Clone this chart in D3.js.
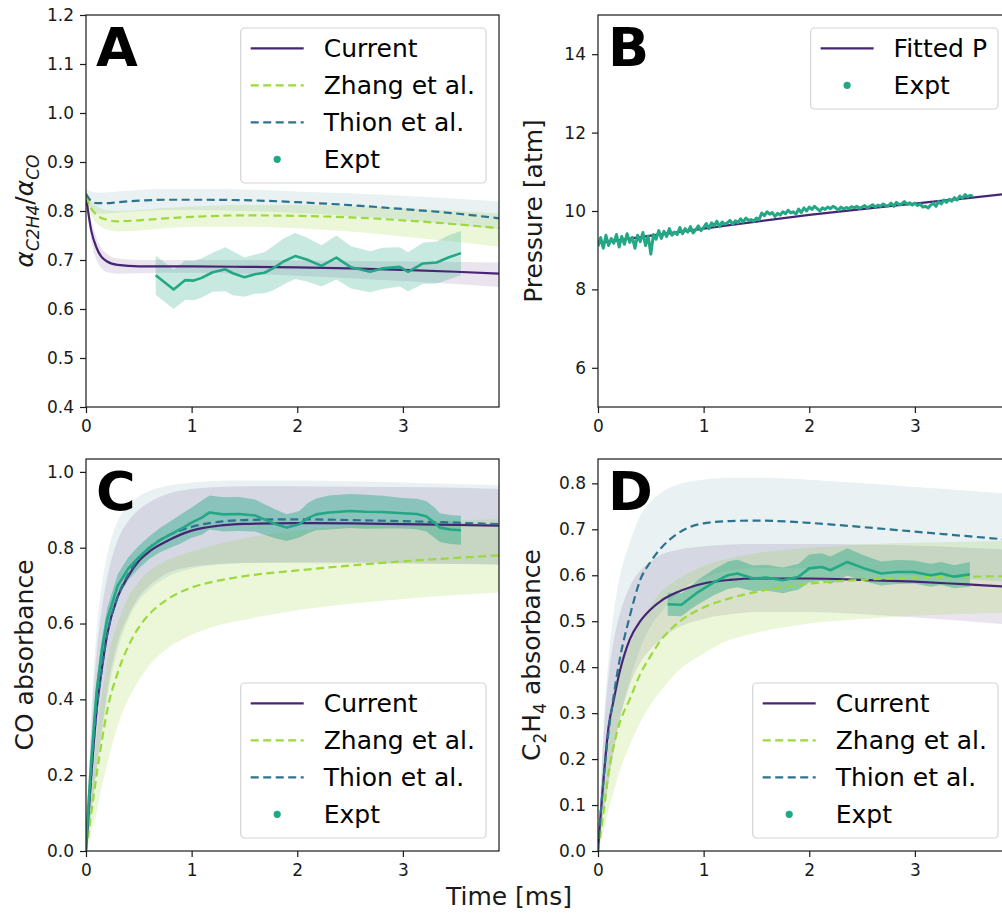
<!DOCTYPE html>
<html>
<head>
<meta charset="utf-8">
<script src="https://cdn.jsdelivr.net/npm/d3@7"></script>
<style>
  body { margin: 0; background: #fff; }
  text { font-family: "DejaVu Sans", sans-serif; }
</style>
</head>
<body>
<div id="draw"></div>
<script>
// ---- data ----
let T_MAX = 3.91;

// panel A : alpha ratio
let tA = [0, 0.05, 0.1, 0.2, 0.3, 0.5, 0.75, 1.0, 1.5, 2.0, 2.5, 3.0, 3.5, 3.91];
let curA   = [0.83, 0.76, 0.725, 0.697, 0.690, 0.687, 0.687, 0.687, 0.686, 0.685, 0.683, 0.680, 0.676, 0.672];
let curALo = [0.825, 0.74, 0.70, 0.675, 0.672, 0.673, 0.674, 0.674, 0.672, 0.668, 0.663, 0.657, 0.651, 0.645];
let curAHi = [0.835, 0.78, 0.745, 0.712, 0.703, 0.700, 0.700, 0.700, 0.700, 0.699, 0.698, 0.697, 0.696, 0.695];
let zhA    = [0.83, 0.805, 0.792, 0.782, 0.779, 0.781, 0.785, 0.788, 0.791, 0.790, 0.787, 0.781, 0.773, 0.765];
let zhALo  = [0.82, 0.79, 0.775, 0.762, 0.758, 0.760, 0.765, 0.768, 0.768, 0.765, 0.758, 0.748, 0.737, 0.727];
let zhAHi  = [0.84, 0.82, 0.81, 0.802, 0.800, 0.802, 0.806, 0.809, 0.812, 0.812, 0.810, 0.806, 0.800, 0.795];
let thA    = [0.835, 0.82, 0.816, 0.816, 0.818, 0.821, 0.823, 0.823, 0.822, 0.818, 0.812, 0.804, 0.795, 0.785];
let thALo  = [0.825, 0.80, 0.795, 0.795, 0.797, 0.800, 0.802, 0.802, 0.800, 0.796, 0.790, 0.782, 0.772, 0.762];
let thAHi  = [0.845, 0.84, 0.838, 0.838, 0.840, 0.843, 0.845, 0.845, 0.844, 0.840, 0.836, 0.831, 0.825, 0.820];
let tExA  = [0.66, 0.83, 0.94, 1.02, 1.09, 1.2, 1.32, 1.39, 1.5, 1.6, 1.69, 1.77, 1.87, 1.98, 2.09, 2.23, 2.37, 2.51, 2.69, 2.81, 2.97, 3.05, 3.19, 3.32, 3.43, 3.55];
let exA   = [0.669, 0.640, 0.659, 0.658, 0.663, 0.675, 0.681, 0.673, 0.665, 0.671, 0.674, 0.683, 0.697, 0.708, 0.701, 0.688, 0.705, 0.685, 0.676, 0.683, 0.686, 0.676, 0.693, 0.695, 0.705, 0.714];
let errA  = [0.04, 0.04, 0.04, 0.04, 0.04, 0.04, 0.045, 0.045, 0.04, 0.04, 0.042, 0.045, 0.047, 0.047, 0.045, 0.042, 0.045, 0.043, 0.042, 0.042, 0.04, 0.04, 0.042, 0.043, 0.045, 0.045];

// panel B : pressure
let tFitB = [0, 0.5, 1, 1.5, 2, 2.5, 3, 3.5, 3.91];
let fitB  = [9.18, 9.37, 9.55, 9.73, 9.90, 10.05, 10.19, 10.33, 10.45];
let exBStep = 0.025;
let exB = [
  9.10, 9.32, 9.05, 9.38, 9.12, 9.30, 9.18, 9.40, 9.08, 9.35,
  9.15, 9.42, 9.20, 9.33, 9.05, 9.38, 9.22, 9.45, 9.12, 9.36,
  8.90, 9.40, 9.28, 9.50, 9.30, 9.48, 9.35, 9.55, 9.38, 9.46,
  9.40, 9.58, 9.42, 9.55, 9.46, 9.60, 9.44, 9.52, 9.62, 9.50,
  9.58, 9.68, 9.55, 9.70, 9.62, 9.74, 9.60, 9.72, 9.66, 9.70,
  9.76, 9.66, 9.75, 9.70, 9.80, 9.72, 9.82, 9.76, 9.78, 9.74,
  9.82, 9.78, 9.95, 9.88, 9.98, 9.92, 9.96, 9.86, 9.94, 9.90,
  9.98, 9.93, 10.02, 9.95, 9.98, 9.92, 10.05, 9.96, 10.08, 10.00,
  10.10, 10.04, 10.12, 10.06, 10.00, 10.08, 10.04, 10.10, 10.06, 10.12,
  10.08, 10.02, 10.10, 10.05, 10.09, 10.06, 10.11, 10.08, 10.12, 10.07,
  10.10, 10.14, 10.08, 10.12, 10.16, 10.10, 10.15, 10.12, 10.18, 10.13,
  10.14, 10.20, 10.12, 10.22, 10.16, 10.18, 10.24, 10.17, 10.21, 10.15,
  10.20, 10.14, 10.18, 10.10, 10.12, 10.08, 10.15, 10.20, 10.12, 10.24,
  10.18, 10.28, 10.22, 10.30, 10.25, 10.34, 10.28, 10.38, 10.32, 10.42,
  10.36, 10.40, 10.38
];

// panels C and D share the model time grid
let tM = [0, 0.025, 0.05, 0.1, 0.15, 0.2, 0.3, 0.4, 0.5, 0.6, 0.75, 1.0, 1.25, 1.5, 2.0, 2.5, 3.0, 3.5, 3.91];

// panel C : CO absorbance
let curC   = [0, 0.1, 0.2, 0.37, 0.48, 0.57, 0.67, 0.725, 0.765, 0.79, 0.815, 0.845, 0.858, 0.863, 0.865, 0.864, 0.862, 0.86, 0.858];
let curCLo = [0, 0.05, 0.1, 0.22, 0.32, 0.42, 0.55, 0.62, 0.67, 0.70, 0.73, 0.75, 0.757, 0.76, 0.76, 0.759, 0.758, 0.757, 0.755];
let curCHi = [0, 0.17, 0.32, 0.52, 0.64, 0.72, 0.82, 0.87, 0.90, 0.92, 0.94, 0.955, 0.96, 0.962, 0.962, 0.961, 0.96, 0.958, 0.955];
let zhC    = [0, 0.05, 0.1, 0.2, 0.29, 0.37, 0.47, 0.54, 0.59, 0.625, 0.66, 0.695, 0.713, 0.725, 0.74, 0.753, 0.764, 0.773, 0.78];
let zhCLo  = [0, 0.02, 0.05, 0.1, 0.17, 0.23, 0.33, 0.40, 0.45, 0.49, 0.53, 0.57, 0.595, 0.61, 0.635, 0.652, 0.665, 0.675, 0.682];
let zhCHi  = [0, 0.09, 0.17, 0.30, 0.41, 0.50, 0.60, 0.67, 0.71, 0.74, 0.765, 0.79, 0.81, 0.825, 0.845, 0.857, 0.866, 0.872, 0.876];
let thC    = [0, 0.1, 0.2, 0.37, 0.48, 0.57, 0.67, 0.73, 0.77, 0.80, 0.828, 0.855, 0.868, 0.873, 0.875, 0.873, 0.87, 0.866, 0.862];
let thCLo  = [0, 0.05, 0.1, 0.21, 0.30, 0.40, 0.53, 0.61, 0.66, 0.69, 0.72, 0.745, 0.755, 0.76, 0.762, 0.762, 0.76, 0.758, 0.756];
let thCHi  = [0, 0.2, 0.36, 0.58, 0.70, 0.78, 0.87, 0.91, 0.935, 0.95, 0.962, 0.972, 0.976, 0.977, 0.977, 0.975, 0.972, 0.968, 0.965];
let tExC = [0, 0.05, 0.1, 0.15, 0.2, 0.3, 0.4, 0.5, 0.6, 0.7, 0.8, 0.9, 1.0, 1.1, 1.17, 1.3, 1.45, 1.6, 1.71, 1.8, 1.9, 2.02, 2.1, 2.18, 2.3, 2.5, 2.65, 2.81, 3.0, 3.13, 3.22, 3.3, 3.35, 3.45, 3.55];
let exC  = [0.02, 0.24, 0.42, 0.53, 0.61, 0.70, 0.745, 0.775, 0.80, 0.82, 0.835, 0.85, 0.866, 0.88, 0.893, 0.888, 0.889, 0.885, 0.872, 0.862, 0.853, 0.862, 0.878, 0.888, 0.893, 0.897, 0.895, 0.894, 0.891, 0.889, 0.883, 0.866, 0.853, 0.848, 0.846];
let errC = [0.01, 0.02, 0.025, 0.03, 0.03, 0.03, 0.03, 0.03, 0.03, 0.032, 0.035, 0.038, 0.04, 0.045, 0.045, 0.045, 0.045, 0.042, 0.04, 0.038, 0.035, 0.035, 0.04, 0.042, 0.045, 0.045, 0.045, 0.043, 0.04, 0.04, 0.04, 0.04, 0.038, 0.038, 0.038];

// panel D : C2H4 absorbance
let curD   = [0, 0.08, 0.15, 0.27, 0.33, 0.385, 0.46, 0.50, 0.526, 0.545, 0.563, 0.582, 0.59, 0.593, 0.593, 0.59, 0.586, 0.58, 0.575];
let curDLo = [0, 0.04, 0.08, 0.15, 0.22, 0.28, 0.36, 0.41, 0.44, 0.46, 0.485, 0.505, 0.515, 0.52, 0.52, 0.515, 0.508, 0.50, 0.492];
let curDHi = [0, 0.13, 0.24, 0.38, 0.46, 0.51, 0.575, 0.61, 0.63, 0.645, 0.655, 0.663, 0.667, 0.668, 0.668, 0.667, 0.664, 0.66, 0.656];
let zhD    = [0, 0.04, 0.08, 0.17, 0.23, 0.275, 0.33, 0.385, 0.425, 0.46, 0.495, 0.53, 0.55, 0.564, 0.582, 0.59, 0.595, 0.597, 0.598];
let zhDLo  = [0, 0.02, 0.04, 0.09, 0.13, 0.17, 0.23, 0.28, 0.32, 0.35, 0.39, 0.43, 0.46, 0.475, 0.495, 0.505, 0.512, 0.516, 0.518];
let zhDHi  = [0, 0.07, 0.13, 0.25, 0.33, 0.39, 0.45, 0.50, 0.535, 0.565, 0.59, 0.62, 0.637, 0.648, 0.66, 0.667, 0.671, 0.673, 0.675];
let thD    = [0, 0.08, 0.15, 0.26, 0.34, 0.41, 0.51, 0.59, 0.63, 0.66, 0.69, 0.713, 0.718, 0.719, 0.714, 0.705, 0.695, 0.685, 0.677];
let thDLo  = [0, 0.04, 0.08, 0.15, 0.22, 0.28, 0.37, 0.44, 0.49, 0.52, 0.56, 0.595, 0.61, 0.615, 0.615, 0.61, 0.60, 0.592, 0.585];
let thDHi  = [0, 0.14, 0.26, 0.42, 0.52, 0.59, 0.67, 0.73, 0.76, 0.78, 0.797, 0.808, 0.812, 0.812, 0.808, 0.80, 0.792, 0.784, 0.777];
let tExD = [0.66, 0.79, 0.87, 0.95, 1.1, 1.23, 1.32, 1.47, 1.59, 1.75, 1.9, 2.0, 2.12, 2.2, 2.36, 2.52, 2.68, 2.83, 2.99, 3.15, 3.25, 3.37, 3.52];
let exD  = [0.537, 0.536, 0.55, 0.564, 0.585, 0.600, 0.604, 0.593, 0.595, 0.589, 0.597, 0.615, 0.618, 0.611, 0.629, 0.615, 0.604, 0.607, 0.607, 0.600, 0.604, 0.597, 0.602];
let errD = [0.025, 0.025, 0.025, 0.027, 0.028, 0.03, 0.03, 0.028, 0.028, 0.028, 0.028, 0.03, 0.03, 0.03, 0.03, 0.028, 0.026, 0.026, 0.025, 0.025, 0.025, 0.025, 0.027];

let xTicks = [0, 1, 2, 3];

// ---- styles ----
let C_CUR = d3.interpolateViridis(0.1);
let C_ZH = d3.interpolateViridis(0.85);
let C_TH = d3.interpolateViridis(0.38);
let C_EX = d3.interpolateViridis(0.6);
let PW = 413, PH = 392;
let INK = '#1a1a1a';

let W = 1002, H = 913;
let svg = d3.select('#draw').append('svg').attr('width', W).attr('height', H);

let zip = function(t, v) { return t.map((tt, i) => [tt, v[i]]); };
let zipBand = function(t, lo, hi) { return t.map((tt, i) => [tt, lo[i], hi[i]]); };
let zipErr = function(t, v, e) { return t.map((tt, i) => [tt, v[i] - e[i], v[i] + e[i]]); };

let drawPanel = function(p) {
  let g = svg.append('g').attr('transform', 'translate(' + p.left + ',' + p.top + ')');
  let x = d3.scaleLinear().domain([0, T_MAX]).range([0, PW]);
  let y = d3.scaleLinear().domain(p.yDomain).range([PH, 0]);

  svg.append('clipPath').attr('id', 'clip' + p.id)
    .append('rect').attr('width', PW).attr('height', PH);
  let plot = g.append('g').attr('clip-path', 'url(#clip' + p.id + ')');

  // shaded bands first
  p.series.forEach(function(s) {
    if (!s.band) return;
    plot.append('path').datum(s.band)
      .attr('d', d3.area().x(d => x(d[0])).y0(d => y(d[1])).y1(d => y(d[2]))
        .curve(s.smooth ? d3.curveMonotoneX : d3.curveLinear))
      .attr('fill', s.color).attr('fill-opacity', s.alpha);
  });
  // then the lines
  p.series.forEach(function(s) {
    plot.append('path').datum(s.line)
      .attr('d', d3.line().x(d => x(d[0])).y(d => y(d[1]))
        .curve(s.smooth ? d3.curveMonotoneX : d3.curveLinear))
      .attr('fill', 'none').attr('stroke', s.color)
      .attr('stroke-width', s.width || 2.2)
      .attr('stroke-linejoin', 'round')
      .attr('stroke-dasharray', s.dash ? '8,4.5' : null);
  });

  // axes
  let xa = g.append('g').attr('transform', 'translate(0,' + PH + ')')
    .call(d3.axisBottom(x).tickValues(xTicks).tickFormat(d3.format('d')).tickSize(6).tickPadding(7));
  let ya = g.append('g')
    .call(d3.axisLeft(y).tickValues(p.yTicks).tickFormat(p.fmt).tickSize(6).tickPadding(6));
  [xa, ya].forEach(function(a) {
    a.select('.domain').remove();
    a.selectAll('line').attr('stroke', INK).attr('stroke-width', 1.2);
    a.selectAll('text').attr('fill', INK).style('font-size', '17px')
      .style('font-family', '"DejaVu Sans", sans-serif');
  });
  g.append('rect').attr('width', PW).attr('height', PH)
    .attr('fill', 'none').attr('stroke', INK).attr('stroke-width', 1.2);

  // panel letter
  g.append('text').attr('x', 10).attr('y', 51).text(p.id)
    .style('font-size', '54px').style('font-weight', 'bold').attr('fill', '#000');

  // y label
  let yl = g.append('text')
    .attr('transform', 'translate(' + p.yLabelX + ',' + (PH / 2) + ') rotate(-90)')
    .attr('text-anchor', 'middle').attr('fill', INK).style('font-size', '25px');
  p.yLabel.forEach(function(part) {
    let ts = yl.append('tspan').text(part.s);
    if (part.sub) ts.attr('dy', 6).style('font-size', '17px');
    if (part.up) ts.attr('dy', -6);
    if (part.it) ts.style('font-style', 'italic');
  });

  // legend
  let lg = g.append('g');
  let rowH = 37;
  let rows = p.series.filter(s => s.label);
  let texts = [];
  let box = lg.append('rect');
  rows.forEach(function(s, i) {
    let t = lg.append('text').attr('y', i * rowH).attr('dy', '0.36em')
      .style('font-size', '25px').attr('fill', '#000').text(s.label);
    texts.push(t);
  });
  let tw = d3.max(texts, t => t.node().getComputedTextLength());
  let boxW = 10 + 53 + 20 + tw + 11;
  let boxH = rows.length * rowH + 7;
  let bx = PW - 13 - boxW;
  let by = p.legendBottom ? PH - 13 - boxH : 13;
  let y0 = by + 20.3;
  lg.attr('transform', 'translate(' + bx + ',' + y0 + ')');
  box.attr('x', 0).attr('y', -20.3).attr('width', boxW).attr('height', boxH)
    .attr('rx', 4).attr('fill', '#fff').attr('fill-opacity', 0.8)
    .attr('stroke', '#d4d4d4').attr('stroke-width', 1.2);
  texts.forEach(t => t.attr('x', 83));
  rows.forEach(function(s, i) {
    if (s.dot) {
      lg.append('circle').attr('cx', 36.5).attr('cy', i * rowH).attr('r', 3.6).attr('fill', s.color);
    } else {
      lg.append('line').attr('x1', 10).attr('x2', 63).attr('y1', i * rowH).attr('y2', i * rowH)
        .attr('stroke', s.color).attr('stroke-width', 2.2)
        .attr('stroke-dasharray', s.dash ? '8,4.5' : null);
    }
  });
};

drawPanel({
  id: 'A', left: 86, top: 15, yDomain: [0.4, 1.2],
  yTicks: [0.4, 0.5, 0.6, 0.7, 0.8, 0.9, 1.0, 1.1, 1.2], fmt: d3.format('.1f'),
  yLabelX: -53,
  yLabel: [{s: 'α', it: true}, {s: 'C2H4', sub: true, it: true}, {s: '/', up: true}, {s: 'α', it: true}, {s: 'CO', sub: true, it: true}],
  series: [
    {label: 'Current', color: C_CUR, smooth: true, line: zip(tA, curA), band: zipBand(tA, curALo, curAHi), alpha: 0.12},
    {label: 'Zhang et al.', color: C_ZH, dash: true, smooth: true, line: zip(tA, zhA), band: zipBand(tA, zhALo, zhAHi), alpha: 0.2},
    {label: 'Thion et al.', color: C_TH, dash: true, smooth: true, line: zip(tA, thA), band: zipBand(tA, thALo, thAHi), alpha: 0.1},
    {label: 'Expt', color: C_EX, dot: true, width: 2.6, line: zip(tExA, exA), band: zipErr(tExA, exA, errA), alpha: 0.25}
  ]
});

drawPanel({
  id: 'B', left: 598, top: 15, yDomain: [5, 15],
  yTicks: [6, 8, 10, 12, 14], fmt: d3.format('d'),
  yLabelX: -56,
  yLabel: [{s: 'Pressure [atm]'}],
  series: [
    {label: 'Fitted P', color: C_CUR, smooth: true, line: zip(tFitB, fitB)},
    {label: 'Expt', color: C_EX, dot: true, width: 3, line: exB.map((v, i) => [i * exBStep, v])}
  ]
});

drawPanel({
  id: 'C', left: 86, top: 459, yDomain: [0, 1.034],
  yTicks: [0, 0.2, 0.4, 0.6, 0.8, 1.0], fmt: d3.format('.1f'),
  yLabelX: -53, legendBottom: true,
  yLabel: [{s: 'CO absorbance'}],
  series: [
    {label: 'Current', color: C_CUR, smooth: true, line: zip(tM, curC), band: zipBand(tM, curCLo, curCHi), alpha: 0.12},
    {label: 'Zhang et al.', color: C_ZH, dash: true, smooth: true, line: zip(tM, zhC), band: zipBand(tM, zhCLo, zhCHi), alpha: 0.2},
    {label: 'Thion et al.', color: C_TH, dash: true, smooth: true, line: zip(tM, thC), band: zipBand(tM, thCLo, thCHi), alpha: 0.1},
    {label: 'Expt', color: C_EX, dot: true, width: 2.6, line: zip(tExC, exC), band: zipErr(tExC, exC, errC), alpha: 0.42}
  ]
});

drawPanel({
  id: 'D', left: 598, top: 459, yDomain: [0, 0.853],
  yTicks: [0, 0.1, 0.2, 0.3, 0.4, 0.5, 0.6, 0.7, 0.8], fmt: d3.format('.1f'),
  yLabelX: -58, legendBottom: true,
  yLabel: [{s: 'C'}, {s: '2', sub: true}, {s: 'H', up: true}, {s: '4', sub: true}, {s: ' absorbance', up: true}],
  series: [
    {label: 'Current', color: C_CUR, smooth: true, line: zip(tM, curD), band: zipBand(tM, curDLo, curDHi), alpha: 0.12},
    {label: 'Zhang et al.', color: C_ZH, dash: true, smooth: true, line: zip(tM, zhD), band: zipBand(tM, zhDLo, zhDHi), alpha: 0.2},
    {label: 'Thion et al.', color: C_TH, dash: true, smooth: true, line: zip(tM, thD), band: zipBand(tM, thDLo, thDHi), alpha: 0.1},
    {label: 'Expt', color: C_EX, dot: true, width: 2.6, line: zip(tExD, exD), band: zipErr(tExD, exD, errD), alpha: 0.42}
  ]
});

// shared x label
svg.append('text').attr('x', 509).attr('y', 905).attr('text-anchor', 'middle')
  .attr('fill', INK).style('font-size', '25px').text('Time [ms]');
</script>
</body>
</html>
